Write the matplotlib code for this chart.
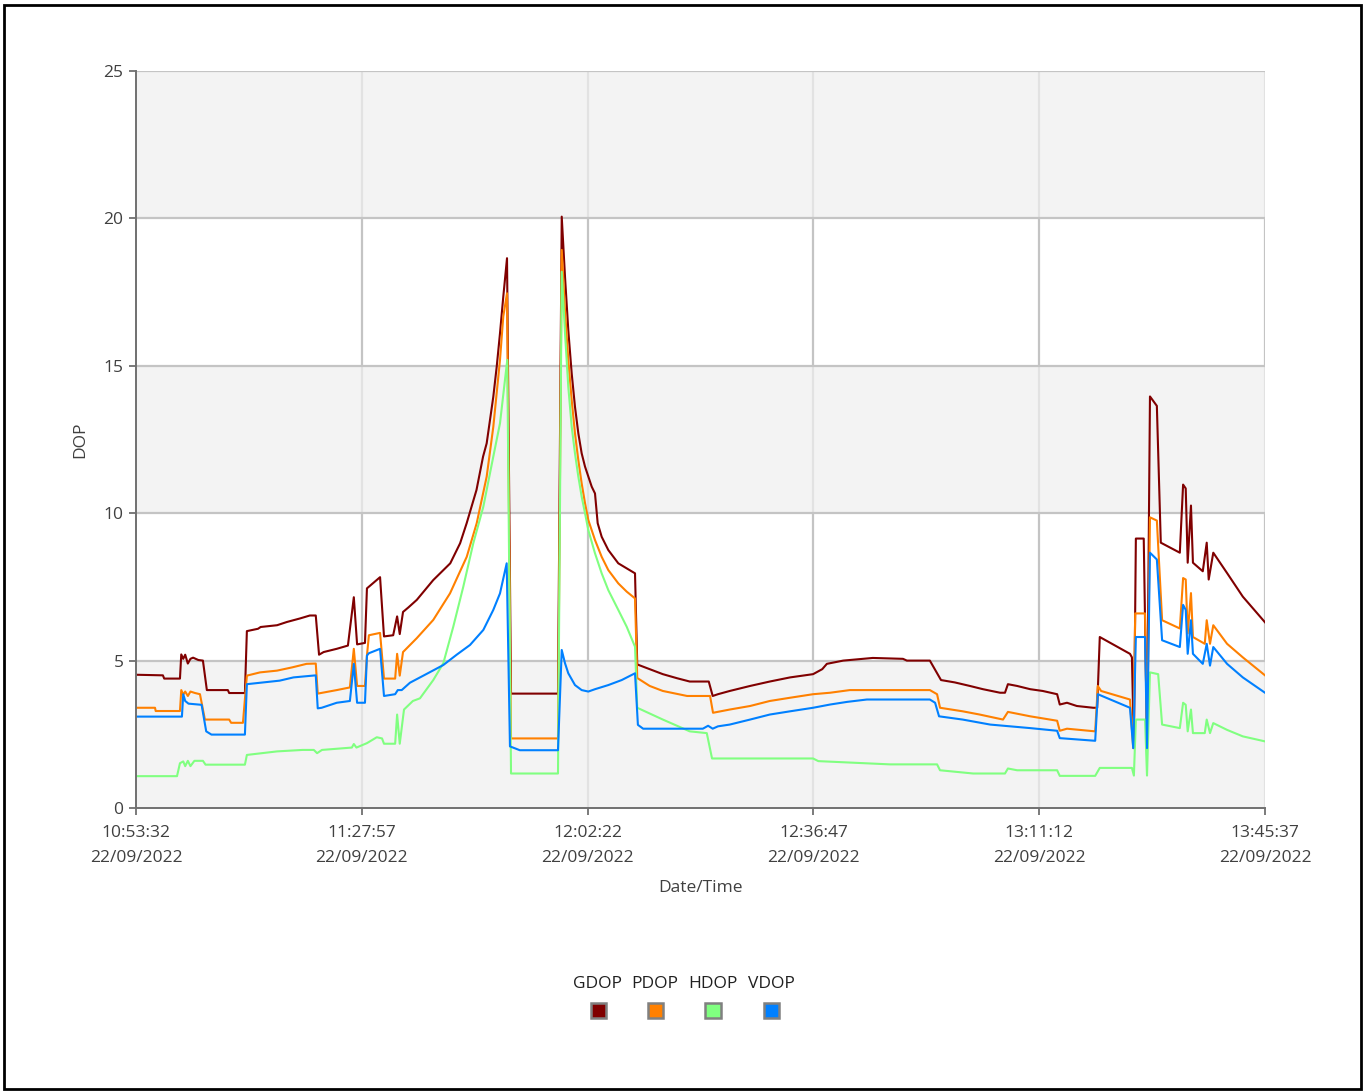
import matplotlib
matplotlib.use("Agg")
import matplotlib.pyplot as plt
from matplotlib.patches import Rectangle

plt.rcParams['font.family'] = ['Open Sans', 'DejaVu Sans']

# ---- data (time in minutes after 10:53:32 on 22/09/2022) ----
x_ticks = [0, 34.4167, 68.8333, 103.25, 137.6667, 172.0833]
x_tick_labels = ["10:53:32\n22/09/2022", "11:27:57\n22/09/2022", "12:02:22\n22/09/2022",
                 "12:36:47\n22/09/2022", "13:11:12\n22/09/2022", "13:45:37\n22/09/2022"]
y_ticks = [0, 5, 10, 15, 20, 25]
series_names = ["GDOP", "PDOP", "HDOP", "VDOP"]
series_colors = ["#800000", "#ff8000", "#80ff80", "#0080ff"]

gdop_t = [0, 4.1, 4.3, 6.7, 6.9, 7.2, 7.5, 7.9, 8.3, 8.7, 9.5, 10.2, 10.8, 14.0, 14.2, 16.6, 16.9, 18.6, 19.0,
          21.5, 23.0, 25.0, 26.5, 27.4, 27.9, 28.6, 30.6, 32.3, 33.2, 33.7, 34.9, 35.2, 37.2, 37.8, 39.2, 39.8,
          40.2, 40.7, 41.5, 42.8, 45.3, 47.9, 49.4, 50.4, 51.9, 52.9, 53.45, 54.46, 54.98, 55.48, 55.98, 56.55,
          57.16, 64.32, 64.89, 65.39, 65.89, 66.41, 66.91, 67.42, 67.93, 68.44, 69.46, 69.96, 70.37, 70.98,
          71.99, 73.51, 74.79, 76.06, 76.4, 78.3,
          80.3, 82.5, 84.4, 87.3, 87.9, 88.7, 90.5, 93.6, 96.6, 99.7, 103.2, 104.6, 105.3, 107.8, 112.3,
          116.9, 117.5, 121.0, 122.7, 124.8, 127.1, 129.1, 131.7, 132.45, 132.9, 134.3, 136.3, 138.2, 140.4,
          140.8, 141.9, 143.4, 145.9, 146.5, 146.9, 151.5, 151.8, 152.1, 152.4, 153.6, 154.1, 154.55, 155.6,
          156.2, 159.1, 159.6, 160.0, 160.3, 160.8, 161.1, 162.6, 163.2, 163.5, 164.2, 166.3, 168.7, 172.08]
gdop_v = [4.52, 4.5, 4.39, 4.39, 5.21, 5.06, 5.2, 4.9, 5.06, 5.1, 5.02, 5.0, 4.0, 4.0, 3.9, 3.9, 6.0, 6.08, 6.14,
          6.2, 6.31, 6.43, 6.53, 6.53, 5.2, 5.29, 5.4, 5.51, 7.15, 5.55, 5.6, 7.45, 7.83, 5.82, 5.86, 6.5,
          5.9, 6.65, 6.8, 7.06, 7.73, 8.3, 8.98, 9.66, 10.79, 11.92, 12.37, 13.95, 14.97, 16.1, 17.34, 18.65,
          3.88, 3.88, 20.06, 18.02, 16.21, 14.74, 13.61, 12.71, 12.03, 11.58, 10.9, 10.67, 9.66, 9.2,
          8.75, 8.3, 8.13, 7.96, 4.87, 4.71,
          4.54, 4.4, 4.29, 4.29, 3.8, 3.86, 3.97, 4.14, 4.29, 4.43, 4.54, 4.71, 4.89, 5.0, 5.09,
          5.06, 5.0, 5.0, 4.34, 4.26, 4.14, 4.03, 3.91, 3.91, 4.2, 4.14, 4.03, 3.97, 3.86,
          3.51, 3.57, 3.46, 3.4, 3.4, 5.8, 5.23, 5.11, 2.1, 9.14, 9.14, 2.2, 13.96, 13.64,
          9.0, 8.66, 10.97, 10.84, 8.32, 10.26, 8.32, 8.03, 9.0, 7.75, 8.66, 7.97, 7.17, 6.3]

pdop_t = [0, 2.9, 3.0, 6.7, 6.9, 7.2, 7.5, 7.9, 8.3, 9.0, 9.75, 10.5, 14.2, 14.5, 16.3, 16.9, 18.9, 21.5, 23.8,
          26.0, 27.4, 27.7, 30.6, 32.6, 33.2, 33.7, 34.9, 35.2, 35.5, 37.2, 37.8, 39.5, 39.8, 40.2, 40.7,
          42.79, 45.31, 47.86, 50.41, 51.93, 53.45, 54.46, 55.48, 55.98, 56.55, 57.16, 64.32, 64.89, 65.39,
          65.89, 66.41, 66.91, 67.42, 67.93, 68.44, 68.94, 69.96, 70.98, 71.99, 73.51, 74.79, 76.06, 76.4,
          78.3, 80.3, 84.0, 87.5, 87.95, 90.5, 93.6, 96.6, 99.7,
          103.2, 105.8, 108.8, 121.0, 122.1, 122.55, 126.0, 128.6, 132.15, 132.9, 136.3, 140.4, 140.8, 141.9,
          146.2, 146.6, 147.1, 151.5, 152.0, 152.3, 153.8, 154.1, 154.55, 155.6, 156.4, 159.1, 159.6, 160.0,
          160.3, 160.8, 161.1, 162.9, 163.2, 163.7, 164.2, 166.3, 168.7, 172.08]
pdop_v = [3.4, 3.4, 3.29, 3.29, 4.0, 3.85, 3.95, 3.8, 3.95, 3.9, 3.86, 3.0, 3.0, 2.89, 2.89, 4.49, 4.6, 4.66, 4.77,
          4.89, 4.9, 3.88, 4.0, 4.09, 5.4, 4.14, 4.14, 5.17, 5.86, 5.94, 4.39, 4.39, 5.23, 4.49, 5.29,
          5.76, 6.38, 7.28, 8.52, 9.66, 11.24, 12.93, 15.2, 16.67, 17.46, 2.36, 2.36, 18.93, 16.89,
          15.2, 13.84, 12.71, 11.8, 11.01, 10.34, 9.77, 9.09, 8.52, 8.07, 7.62, 7.34, 7.11, 4.41,
          4.14, 3.97, 3.8, 3.8, 3.23, 3.34, 3.46, 3.63, 3.74,
          3.86, 3.91, 4.0, 4.0, 3.86, 3.4, 3.28, 3.17, 3.0, 3.26, 3.11, 2.96, 2.62, 2.69,
          2.6, 4.14, 3.97, 3.68, 2.03, 6.6, 6.6, 2.0, 9.86, 9.75, 6.37, 6.09, 7.8, 7.75,
          5.92, 7.29, 5.8, 5.57, 6.37, 5.57, 6.2, 5.57, 5.11, 4.5]

hdop_t = [0, 6.25, 6.7, 7.2, 7.5, 7.9, 8.3, 8.9, 10.2, 10.6, 16.6, 16.9, 21.5, 25.4, 27.1, 27.6, 28.35, 32.9,
          33.2, 33.6, 35.2, 36.7, 37.5, 37.8, 39.5, 39.8, 40.2, 40.85, 42.2, 43.28, 45.31, 46.84, 48.36,
          49.89, 51.41, 52.94, 54.46, 55.48, 56.59, 57.16, 64.32, 64.89, 65.39, 65.89, 66.41, 66.91, 67.42,
          67.93, 68.44, 68.94, 69.96, 70.98, 71.99, 73.51, 74.79, 76.06,
          76.4, 80.3, 84.4, 87.0, 87.8, 103.2, 104.0, 114.9, 122.1, 122.55, 127.6, 132.45, 132.9, 134.3,
          140.4, 140.8, 146.2, 146.9, 151.8, 152.1, 152.4, 153.8, 154.1, 154.55, 155.8, 156.4, 159.1, 159.6,
          160.0, 160.3, 160.8, 161.1, 162.9, 163.2, 163.7, 164.2, 166.3, 168.7, 172.08]
hdop_v = [1.08, 1.08, 1.52, 1.58, 1.42, 1.6, 1.42, 1.6, 1.6, 1.47, 1.47, 1.8, 1.92, 1.97, 1.97, 1.86, 1.97, 2.05,
          2.17, 2.05, 2.2, 2.4, 2.36, 2.18, 2.18, 3.17, 2.18, 3.34, 3.63, 3.72, 4.34, 4.91, 6.15,
          7.51, 8.98, 10.22, 11.92, 13.05, 15.2, 1.17, 1.17, 18.19, 16.1, 14.29, 12.93, 12.03, 11.24,
          10.56, 10.0, 9.43, 8.64, 7.96, 7.39, 6.72, 6.15, 5.47,
          3.4, 3.0, 2.6, 2.54, 1.68, 1.68, 1.59, 1.48, 1.48, 1.28, 1.17, 1.17, 1.34, 1.28,
          1.28, 1.09, 1.09, 1.36, 1.36, 1.1, 3.0, 3.0, 1.1, 4.6, 4.54, 2.83, 2.71, 3.57,
          3.5, 2.6, 3.34, 2.54, 2.54, 3.0, 2.54, 2.88, 2.65, 2.43, 2.26]

vdop_t = [0, 7.0, 7.2, 7.5, 8.0, 10.0, 10.7, 11.5, 16.6, 16.9, 21.9, 24.0, 27.4, 27.7, 28.3, 30.6, 32.6, 33.2,
          33.7, 34.9, 35.2, 35.5, 37.2, 37.8, 39.5, 39.9, 40.5, 41.76, 44.31, 46.84, 48.88, 50.91, 52.94,
          54.46, 55.48, 56.5, 57.0, 58.5, 64.32, 64.89, 65.39, 65.89, 66.91, 67.93, 68.94, 69.96, 71.99,
          74.03, 76.06, 76.5, 77.3, 86.4,
          87.2, 87.9, 88.7, 90.5, 93.6, 96.6, 99.7, 103.2, 105.8, 108.4, 111.4, 121.0, 121.8, 122.4, 126.0,
          130.2, 136.3, 140.4, 140.8, 146.2, 146.6, 151.5, 152.0, 152.4, 153.8, 154.1, 154.55, 155.6, 156.4,
          159.1, 159.6, 160.0, 160.3, 160.8, 161.1, 162.6, 163.2, 163.7, 164.2, 166.3, 168.7, 172.08]
vdop_v = [3.1, 3.1, 3.86, 3.63, 3.54, 3.5, 2.6, 2.49, 2.49, 4.2, 4.32, 4.43, 4.5, 3.38, 3.4, 3.57, 3.63, 4.89,
          3.57, 3.57, 5.17, 5.25, 5.4, 3.8, 3.86, 4.0, 4.0, 4.25, 4.55, 4.85, 5.2, 5.53, 6.04,
          6.72, 7.28, 8.3, 2.09, 1.96, 1.96, 5.36, 4.91, 4.57, 4.17, 4.0, 3.95, 4.03, 4.17,
          4.34, 4.57, 2.82, 2.69, 2.69,
          2.79, 2.69, 2.77, 2.83, 3.0, 3.17, 3.28, 3.4, 3.51, 3.6, 3.68, 3.68, 3.57, 3.11, 3.0,
          2.83, 2.71, 2.62, 2.37, 2.28, 3.86, 3.4, 2.03, 5.8, 5.8, 2.03, 8.66, 8.43, 5.69,
          5.46, 6.89, 6.72, 5.23, 6.37, 5.23, 4.89, 5.57, 4.83, 5.46, 4.89, 4.43, 3.91]

series_t = [gdop_t, pdop_t, hdop_t, vdop_t]
series_v = [gdop_v, pdop_v, hdop_v, vdop_v]

# ---- figure ----
W, H = 1366, 1091
fig = plt.figure(figsize=(W / 100, H / 100), dpi=100)
ax = fig.add_axes([136 / W, 1 - 808 / H, (1265 - 136) / W, (808 - 71) / H])

xmin, xmax = x_ticks[0], x_ticks[-1]
ax.set_xlim(xmin, xmax)
ax.set_ylim(0, 25)

# alternating bands
for i in range(5):
    lo, hi = 5 * i, 5 * (i + 1)
    if i % 2 == 0:
        ax.axhspan(lo, hi, color="#f3f3f3", zorder=0, lw=0)
    vc = "#e2e2e2" if i % 2 == 0 else "#c4c4c4"
    ax.vlines(x_ticks[1:], lo, hi, colors=vc, lw=1.6, zorder=1)
for y in y_ticks[1:]:
    ax.axhline(y, color="#c4c4c4", lw=1.6, zorder=1)

for t, v, c in zip(series_t, series_v, series_colors):
    ax.plot(t, v, color=c, lw=1.5, zorder=3, solid_joinstyle="round")

for s in ["top", "right"]:
    ax.spines[s].set_visible(False)
for s in ["left", "bottom"]:
    ax.spines[s].set_color("#707070")
    ax.spines[s].set_linewidth(1.4)
    ax.spines[s].set_zorder(4)

ax.set_xticks(x_ticks)
ax.set_xticklabels(x_tick_labels, linespacing=1.78)
ax.set_yticks(y_ticks)
ax.set_yticklabels([str(v) for v in y_ticks])
ax.tick_params(axis="both", colors="#707070", labelcolor="#404040", labelsize=12.5,
               length=5, width=1.3, direction="out")
ax.tick_params(axis="x", pad=7)
ax.tick_params(axis="y", pad=4)

fig.text(700 / W, 1 - 888 / H, "Date/Time", ha="center", va="center", fontsize=12.5, color="#404040")
fig.text(80 / W, 1 - 440 / H, "DOP", ha="center", va="center", rotation=90, fontsize=12.5, color="#404040")

# legend (manual)
leg_x = [598, 655, 713, 771]
for name, c, lx in zip(series_names, series_colors, leg_x):
    fig.text(lx / W, 1 - 984 / H, name, ha="center", va="center", fontsize=12.5, color="#202020")
    fig.patches.append(Rectangle(((lx - 7.5) / W, 1 - 1018 / H), 15 / W, 15 / H,
                                 transform=fig.transFigure, facecolor=c, edgecolor="#808080", lw=1.8))

# outer border
fig.patches.append(Rectangle((4 / W, 2.5 / H), (1361.5 - 4) / W, (1086 - 2.5) / H,
                             transform=fig.transFigure, fill=False, edgecolor="black", lw=2))

fig.savefig("out.png", dpi=100, facecolor="white")
